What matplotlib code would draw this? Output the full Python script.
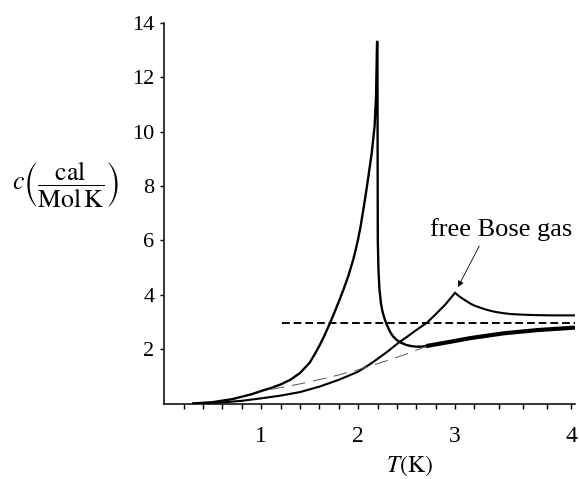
import matplotlib
matplotlib.use('Agg')
import matplotlib.pyplot as plt
from matplotlib.ticker import FixedLocator, NullFormatter
import numpy as np

plt.rcParams['font.family'] = ['Liberation Serif', 'DejaVu Serif']
plt.rcParams['mathtext.fontset'] = 'stix'

# Courbe lambda de l'helium 4 (mesures)
lam_T = [0.3, 0.5, 0.7, 0.9, 1.0, 1.1, 1.2, 1.3, 1.4, 1.5, 1.55, 1.6, 1.65,
         1.7, 1.75, 1.8, 1.85, 1.9, 1.95, 1.975, 2.0, 2.025, 2.05, 2.075, 2.1,
         2.14, 2.17, 2.185, 2.195,
         2.199, 2.203, 2.21, 2.22, 2.235, 2.25, 2.27, 2.295, 2.33, 2.36, 2.4,
         2.45, 2.5, 2.55, 2.6, 2.65, 2.7, 2.81, 3.0, 3.15, 3.44, 3.72, 4.03]
lam_c = [0.0, 0.05, 0.16, 0.34, 0.46, 0.57, 0.7, 0.87, 1.12, 1.5, 1.8, 2.12,
         2.48, 2.88, 3.3, 3.74, 4.2, 4.7, 5.3, 5.65, 6.05, 6.5, 7.05, 7.6, 8.2,
         9.2, 10.2, 11.3, 13.3,
         13.3, 6.0, 4.9, 4.2, 3.7, 3.4, 3.15, 2.9, 2.63, 2.47, 2.33,
         2.22, 2.15, 2.11, 2.09, 2.09, 2.11, 2.18, 2.3, 2.4, 2.58, 2.70, 2.79]

# Gaz de Bose libre
bose_T = [0.3, 0.6, 0.8, 1.0, 1.2, 1.4, 1.6, 1.8, 2.0, 2.125, 2.2, 2.3, 2.43,
          2.5, 2.6, 2.71, 2.8, 2.9, 3.0,
          3.04, 3.08, 3.12, 3.155, 3.2, 3.25, 3.305, 3.37, 3.44, 3.5, 3.58,
          3.7, 3.85, 4.03]
bose_c = [0.0, 0.04, 0.1, 0.19, 0.29, 0.42, 0.62, 0.87, 1.17, 1.45, 1.64, 1.9,
          2.27, 2.44, 2.7, 2.97, 3.28, 3.64, 4.07,
          3.95, 3.85, 3.76, 3.68, 3.6, 3.52, 3.44, 3.37, 3.32, 3.29, 3.27,
          3.25, 3.24, 3.24]

# Fond (tirets fins)
fond_T = [1.1, 1.4, 1.7, 2.0, 2.3, 2.5, 2.7]
fond_c = [0.52, 0.72, 0.96, 1.24, 1.58, 1.82, 2.1]

# Limite classique 3/2 R
clas_T = [1.21, 4.03]
clas_c = [2.97, 2.97]


def fwd(x):
    x = np.asarray(x, dtype=float)
    return np.where(x <= 3.2, x, 3.2 + 1.25 * (x - 3.2))


def inv(y):
    y = np.asarray(y, dtype=float)
    return np.where(y <= 3.2, y, 3.2 + (y - 3.2) / 1.25)


fig = plt.figure(figsize=(5.79, 4.79), dpi=100)
ax = fig.add_axes([0.2838, 0.1576, 0.7092, 0.795])
ax.set_xscale('function', functions=(fwd, inv))

ax.plot(lam_T, lam_c, color='black', lw=1.7, solid_joinstyle='round')
lam_T_arr = np.array(lam_T)
mask = lam_T_arr >= 2.7
ax.plot(lam_T_arr[mask], np.array(lam_c)[mask], color='black', lw=3.0,
        solid_capstyle='butt')
ax.plot(bose_T, bose_c, color='black', lw=1.5, solid_joinstyle='miter')
ax.plot(fond_T, fond_c, color='#555555', lw=0.7, dashes=(14, 8))
ax.plot(clas_T, clas_c, color='black', lw=1.4, dashes=(4, 2))

ax.annotate('', xy=(3.03, 4.28), xytext=(3.24, 5.79),
            arrowprops=dict(arrowstyle='-|>', lw=0.6, color='black',
                            mutation_scale=9, shrinkA=0, shrinkB=0))
ax.text(3.42, 6.38, 'free Bose gas', fontsize=19, ha='center', va='center')

ax.set_xlim(0, 4.03)
ax.set_ylim(0, 14)
ax.spines['top'].set_visible(False)
ax.spines['right'].set_visible(False)
ax.spines['left'].set_linewidth(1.1)
ax.spines['bottom'].set_linewidth(1.1)

ax.xaxis.set_major_locator(FixedLocator([1, 2, 3, 4]))
minor = [round(0.2 * k, 1) for k in range(1, 20) if k % 5 != 0]
ax.xaxis.set_minor_locator(FixedLocator(minor))
ax.xaxis.set_minor_formatter(NullFormatter())
ax.yaxis.set_major_locator(FixedLocator([2, 4, 6, 8, 10, 12, 14]))
ax.tick_params(axis='x', which='both', direction='out', length=3.5, width=1,
               labelsize=17, pad=13)
ax.tick_params(axis='y', direction='out', length=3, width=1, labelsize=16, pad=4)

fig.text(0.707, 0.027, r'$T(\mathrm{K})$', fontsize=17, ha='center', va='center')
fig.text(0.02, 0.614, r'$c\left(\dfrac{\mathrm{cal}}{\mathrm{Mol\,K}}\right)$',
         fontsize=18.5, ha='left', va='center')

fig.savefig('out.png', dpi=100)
